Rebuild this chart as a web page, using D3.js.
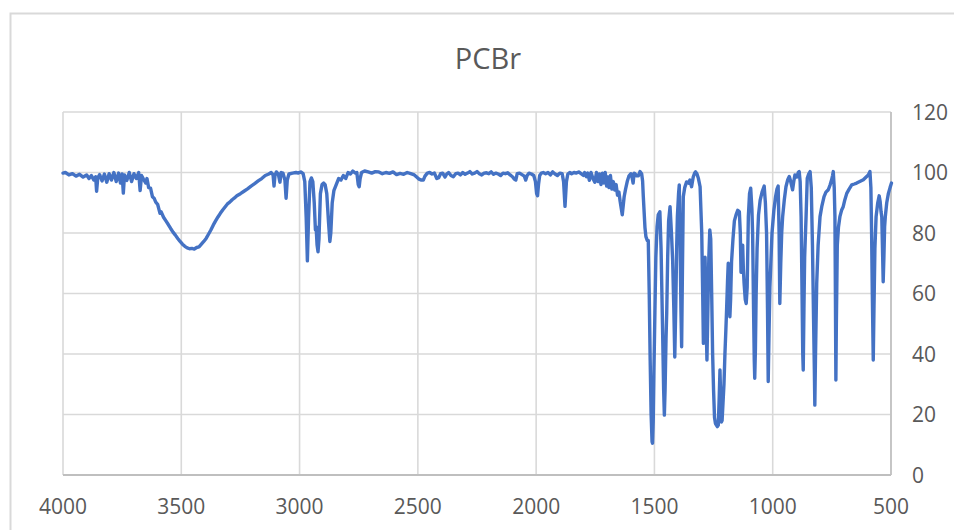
<!DOCTYPE html>
<html>
<head>
<meta charset="utf-8">
<script src="https://cdn.jsdelivr.net/npm/d3@7"></script>
<style>
  html, body { margin: 0; padding: 0; background: #ffffff; }
  svg { display: block; }
  text { font-family: "Open Sans", "Liberation Sans", sans-serif; fill: #595959; }
</style>
</head>
<body>
<svg id="chart" width="954" height="530"></svg>
<script>
const chartTitle = "PCBr";
const xTicks = [4000, 3500, 3000, 2500, 2000, 1500, 1000, 500];
const yTicks = [0, 20, 40, 60, 80, 100, 120];

// wavenumber (cm-1)
const wavenumbers = [
  4000,3990,3975,3960,3945,3930,3915,3900,3890,3880,3870,3862,3858,3853,3845,3835,3825,3815,3805,3795,
  3785,3775,3765,3757,3750,3745,3740,3730,3720,3710,3700,3690,3680,3674,3668,3660,3650,3645,3638,3630,
  3622,3615,3608,3600,3590,3585,3575,3565,3555,3545,3535,3525,3515,3505,3495,3485,3475,3465,3455,3445,
  3435,3425,3415,3405,3395,3385,3375,3365,3355,3345,3335,3325,3315,3305,3295,3285,3275,3265,3250,3235,
  3220,3205,3190,3175,3160,3145,3130,3120,3112,3108,3104,3098,3090,3083,3078,3070,3062,3057,3052,3045,
  3030,3015,3005,2995,2985,2978,2972,2967,2962,2956,2950,2944,2938,2933,2930,2926,2922,2918,2912,2905,
  2898,2892,2885,2878,2872,2868,2862,2855,2845,2835,2825,2815,2805,2795,2785,2775,2765,2758,2752,2748,
  2744,2738,2725,2710,2695,2680,2665,2650,2635,2620,2605,2590,2575,2560,2545,2530,2515,2505,2495,2485,
  2477,2470,2460,2450,2440,2430,2420,2412,2404,2395,2385,2378,2370,2360,2350,2340,2330,2320,2310,2300,
  2290,2280,2270,2260,2250,2240,2230,2220,2210,2200,2190,2180,2170,2160,2150,2140,2130,2120,2110,2100,
  2092,2086,2080,2070,2060,2050,2044,2038,2030,2020,2010,2003,1998,1994,1990,1985,1978,1970,1960,1950,
  1940,1930,1920,1910,1900,1890,1884,1878,1872,1866,1858,1850,1840,1830,1820,1810,1800,1795,1788,1782,
  1775,1768,1760,1752,1745,1738,1732,1726,1720,1714,1708,1702,1697,1692,1686,1680,1674,1668,1662,1656,
  1650,1645,1640,1636,1632,1628,1622,1615,1608,1600,1595,1590,1586,1582,1575,1568,1561,1554,1550,1547,
  1540,1536,1530,1526,1522,1518,1514,1510,1508,1505,1502,1498,1494,1489,1484,1477,1472,1466,1461,1458,
  1455,1451,1448,1444,1440,1434,1428,1423,1418,1414,1410,1406,1403,1398,1395,1391,1388,1385,1382,1378,
  1372,1364,1356,1350,1343,1336,1330,1326,1320,1314,1307,1300,1296,1293,1290,1286,1283,1280,1278,1274,
  1270,1266,1262,1258,1254,1250,1246,1242,1238,1234,1230,1226,1223,1220,1217,1214,1210,1206,1202,1198,
  1195,1191,1188,1184,1181,1178,1174,1168,1162,1155,1148,1141,1137,1134,1130,1127,1124,1121,1116,1112,
  1108,1103,1098,1093,1088,1085,1081,1078,1076,1073,1070,1066,1060,1053,1045,1036,1031,1026,1022,1019,
  1016,1012,1009,1003,995,988,982,977,973,970,966,962,958,951,944,937,930,924,916,911,
  906,898,892,888,884,880,876,873,871,868,865,859,854,848,842,837,832,828,824,822,
  819,814,808,800,792,783,775,765,757,751,747,744,740,737,735,733,731,727,722,716,
  709,702,695,687,677,666,655,645,632,617,605,596,589,585,582,579,575,572,568,563,
  556,550,546,542,539,536,533,530,527,524,518,511,504,498
];

// % transmittance
const transmittance = [
  99.8,100,99.2,99.6,98.8,99.4,98.5,99.2,98.0,99.0,97.5,98.6,93.8,98.2,99.3,97.2,99.5,96.8,99.6,97.5,
  100,97.0,99.8,96.5,99.5,93.2,99.2,97.4,100,97.0,99.6,98.0,100,94,99,97.8,96.5,98,95,94.8,
  92,91.5,90.2,89.5,86.5,87.0,85.2,84.0,82.8,81.5,80.3,79.3,78.2,77.2,76.3,75.6,75.1,74.8,74.9,74.7,
  75.2,75.4,76.3,77.2,78.2,79.6,81.0,82.6,84.0,85.3,86.5,87.6,88.6,89.6,90.2,91.0,91.6,92.3,93.0,93.8,
  94.6,95.5,96.3,97.2,98.0,99.0,99.5,100,99.2,95.5,99,100.2,99.5,96.8,100,99.8,97.5,91.5,97.5,99.5,
  99.8,100,99.8,100.2,99.6,97,85,70.8,85,97,98.2,97,90,81,82,76,73.8,78,93,96,
  96.5,96,93,84,77.2,80,90,94,96,98,97.5,99,98,100,99.5,100.5,99.8,100,96,95.3,
  98,100,100.5,100.2,99.8,100.3,100.2,99.6,100,99.7,100.2,99.3,99.7,99.4,100,99.6,99.2,98.5,97.8,97.5,
  97.5,98.8,99.8,100,99.5,99.8,98,98.3,99.6,99.8,98.5,99.5,100,99,98.6,99.6,99.8,99.2,100,99.4,
  99.8,100.3,99.5,99.8,100.3,99.6,99.2,99.8,99.9,99.6,100.2,99.4,99.8,99.5,99.0,99.8,99.6,99.9,99.2,98.6,
  97.8,97.5,99.6,99.8,99.3,98.8,97.5,99,99.8,99.5,99,97,93,92.3,96,99,99.8,100,99.6,100,
  99.2,100.2,99.5,99,99.8,99.6,97,88.8,97,99.5,100,99.6,100,99.8,100.2,99.6,99,100,98.6,99.8,
  97.4,100,98,96.8,100,97,99.5,96,99.8,96.5,100,95.5,98.5,95,99,94.5,97,94.2,96,92.5,
  93.5,90.5,88,86,89,92,94.5,97,98.8,99.6,98.5,96.5,99.8,99.6,98.9,98.9,100.3,99.6,97.2,92,
  81.8,78.8,77.5,77.5,60,38,20,11,10.5,18,35,53.7,72,82,86,87,75,50,28,19.8,
  28,45,53.7,72,84,88.7,80,71,55,39,55,75,85.4,93,95.9,75,55,42.4,65,92,
  95,96.9,96.5,97.5,95.3,98.5,99.8,100.2,99.5,98,95.3,80,60,43.5,50,72,60,45,38,55,
  72,81,78,60,40,28,19,17,16.5,16,16.5,26,34.7,26,17.5,18,24,30,40,48,
  54.5,64,70,62,52.3,58,70.5,78,84,86,87.5,87,80,67,72,76,68,63.4,58,56.7,
  62,85.4,93,94.8,88,80,55,38,32,42,60,75,86,90.9,93.5,95.5,90,80,55,30.9,
  45,62,67.8,80,87.6,92,94.5,95.5,80,56.7,70,80,85.4,91,95.3,97.5,98.7,97,94.3,97,
  99.2,98.5,100,100.3,97,85.4,60,40,34.7,55,72,85.4,98.1,99.5,100.3,95,76,55,35,23.1,
  40,63.4,76,85.4,89,92,93.5,94.3,96,97.6,99,100.3,95,85.4,60,31.4,50,76,82,85.4,
  87.5,88.7,91,93.1,94.5,95.9,96.2,96.5,97,97.6,98.5,99.2,100.3,95,80,60,38,55,75,85.4,
  90,92.3,90.5,87,85.4,75,63.9,72,82,85.4,90,93.1,95,96.5
];

const W = 954, H = 530;
const plot = { left: 63, right: 891, top: 112, bottom: 475 };

const svg = d3.select("#chart");

// chart area border (cropped by the window at right and bottom)
svg.append("rect")
  .attr("x", 10.5).attr("y", 13.5)
  .attr("width", 1200).attr("height", 800)
  .attr("fill", "#ffffff")
  .attr("stroke", "#d9d9d9").attr("stroke-width", 2);

const x = d3.scaleLinear().domain([4000, 500]).range([plot.left, plot.right]);
const y = d3.scaleLinear().domain([0, 120]).range([plot.bottom, plot.top]);

// horizontal gridlines
svg.append("g").selectAll("line")
  .data(yTicks.filter(v => v > 0))
  .join("line")
  .attr("x1", plot.left).attr("x2", plot.right)
  .attr("y1", d => y(d)).attr("y2", d => y(d))
  .attr("stroke", "#d9d9d9").attr("stroke-width", 1.6);

// vertical gridlines
svg.append("g").selectAll("line")
  .data(xTicks)
  .join("line")
  .attr("x1", d => x(d)).attr("x2", d => x(d))
  .attr("y1", plot.top).attr("y2", plot.bottom)
  .attr("stroke", "#d9d9d9").attr("stroke-width", 1.6);

// right value axis line
svg.append("line")
  .attr("x1", plot.right).attr("x2", plot.right)
  .attr("y1", plot.top).attr("y2", plot.bottom)
  .attr("stroke", "#bfbfbf").attr("stroke-width", 1.6);

// bottom axis line
svg.append("line")
  .attr("x1", plot.left).attr("x2", plot.right)
  .attr("y1", plot.bottom).attr("y2", plot.bottom)
  .attr("stroke", "#bfbfbf").attr("stroke-width", 1.8);

// y tick labels (right)
svg.append("g").selectAll("text")
  .data(yTicks)
  .join("text")
  .attr("x", 912)
  .attr("y", d => y(d) + 7.5)
  .attr("font-size", 21)
  .attr("text-anchor", "start")
  .text(d => d);

// x tick labels
svg.append("g").selectAll("text")
  .data(xTicks)
  .join("text")
  .attr("x", d => x(d))
  .attr("y", 514)
  .attr("font-size", 21)
  .attr("text-anchor", "middle")
  .text(d => d);

// title
svg.append("text")
  .attr("x", 488).attr("y", 69)
  .attr("font-size", 29)
  .attr("text-anchor", "middle")
  .text(chartTitle);

// spectrum line
const n = Math.min(wavenumbers.length, transmittance.length);
const pts = d3.range(n).map(i => [wavenumbers[i], transmittance[i]]);
svg.append("path")
  .datum(pts)
  .attr("fill", "none")
  .attr("stroke", "#4472c4")
  .attr("stroke-width", 3.4)
  .attr("stroke-linejoin", "round")
  .attr("stroke-linecap", "round")
  .attr("d", d3.line().x(d => x(d[0])).y(d => y(d[1])));
</script>
</body>
</html>
